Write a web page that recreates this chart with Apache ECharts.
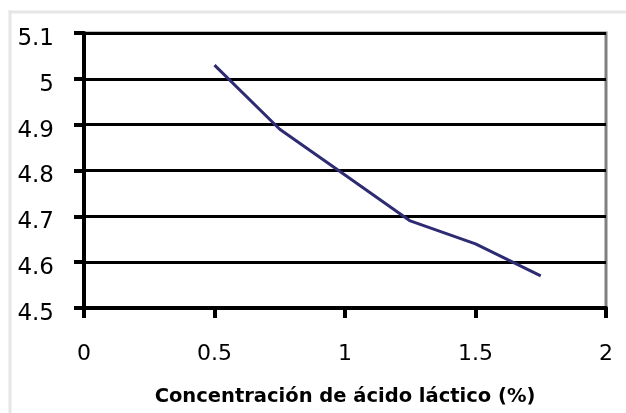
<!DOCTYPE html>
<html>
<head>
<meta charset="utf-8">
<script src="https://cdn.jsdelivr.net/npm/echarts@6/dist/echarts.min.js"></script>
<style>
html,body{margin:0;padding:0;background:#fff;}
#c{width:626px;height:413px;}
</style>
</head>
<body>
<div id="c"></div>
<script>
var xValues = [0.5, 0.75, 1, 1.25, 1.5, 1.75];
var yValues = [5.03, 4.89, 4.79, 4.69, 4.64, 4.57];
var xAxisName = 'Concentración de ácido láctico (%)';

var chart = echarts.init(document.getElementById('c'), null, {renderer: 'canvas'});
var seriesData = xValues.map(function (x, i) { return [x, yValues[i]]; });
var font = '"DejaVu Sans", Arial, sans-serif';

chart.setOption({
  animation: false,
  backgroundColor: '#ffffff',
  graphic: [
    {type: 'rect', shape: {x: 8.5, y: 10.5, width: 3, height: 403}, style: {fill: '#e6e6e6'}, silent: true},
    {type: 'rect', shape: {x: 8.5, y: 10.5, width: 618, height: 3}, style: {fill: '#e6e6e6'}, silent: true}
  ],
  grid: {
    left: 84, right: 20, top: 33, bottom: 105,
    show: true, borderColor: '#808080', borderWidth: 3, backgroundColor: '#fff'
  },
  xAxis: {
    type: 'value', min: 0, max: 2, interval: 0.5,
    name: xAxisName, nameLocation: 'middle', nameGap: 79,
    nameTextStyle: {fontFamily: font, fontSize: 19.5, fontWeight: 'bold', color: '#000'},
    axisLine: {show: true, onZero: false, lineStyle: {color: '#000', width: 4}},
    axisTick: {show: true, length: 10, lineStyle: {color: '#000', width: 4}},
    axisLabel: {fontFamily: font, fontSize: 22, color: '#000', margin: 35},
    splitLine: {show: false}
  },
  yAxis: {
    type: 'value', min: 4.5, max: 5.1, interval: 0.1,
    axisLine: {show: true, onZero: false, lineStyle: {color: '#000', width: 4}},
    axisTick: {show: true, length: 10, lineStyle: {color: '#000', width: 4}},
    axisLabel: {fontFamily: font, fontSize: 23, color: '#000', margin: 30,
      verticalAlign: 'top', lineHeight: 12,
      formatter: function (v) { return String(Math.round(v * 10) / 10); }},
    splitLine: {show: true, lineStyle: {color: '#000', width: 3}}
  },
  series: [{
    type: 'line',
    data: seriesData,
    showSymbol: false,
    symbol: 'none',
    lineStyle: {color: '#2e2b73', width: 3},
    z: 5
  }]
});
</script>
</body>
</html>
